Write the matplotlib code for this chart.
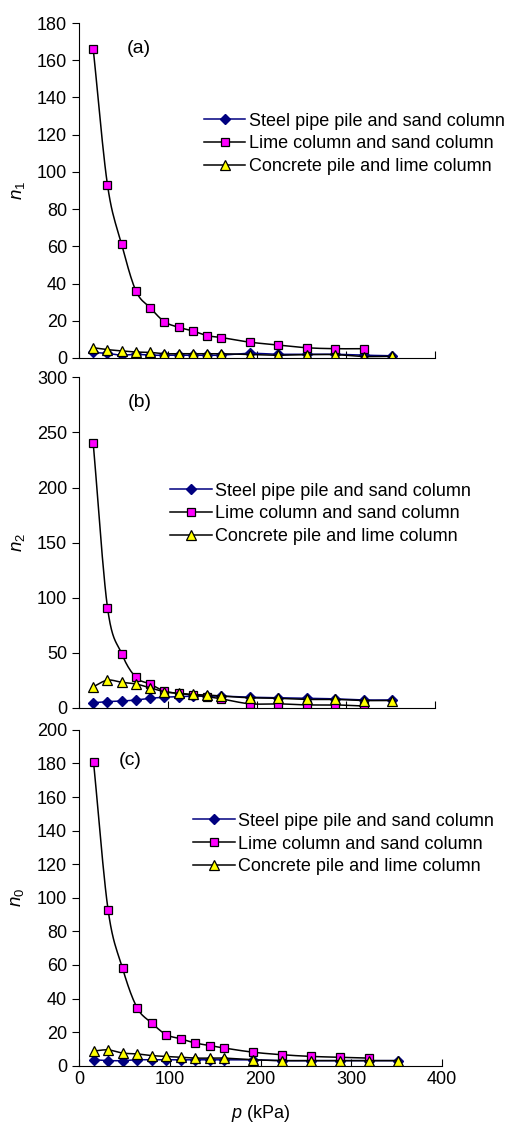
import numpy as np
import matplotlib
matplotlib.use('Agg')
import matplotlib.pyplot as plt

plt.rcParams['font.family'] = ['Liberation Sans', 'DejaVu Sans']
plt.rcParams['mathtext.fontset'] = 'custom'
plt.rcParams['mathtext.it'] = 'Liberation Sans:italic'
plt.rcParams['mathtext.rm'] = 'Liberation Sans'

# 荷载 p (kPa)
p = [16, 32, 48, 64, 80, 96, 112, 128, 144, 160, 192, 224, 256, 288, 320, 352]
p_lime = p[:15]

# (a) n1
steel_a = [3, 2.5, 1.5, 2, 1.5, 1.5, 1.5, 1.5, 1.5, 1.5, 2.5, 2, 2, 2, 1.5, 1.2]
lime_a = [166, 93, 61, 36, 27, 19.5, 16.5, 14.5, 12, 11, 8.5, 7, 5.5, 5, 5]
conc_a = [5.5, 4.5, 3.8, 3.2, 3, 2.3, 2.3, 2.3, 2.3, 2.3, 1.8, 1.5, 1.8, 1.8, 0.8, 0.9]

# (b) n2
steel_b = [4.5, 5.5, 6, 7, 8.5, 9.5, 10, 10.5, 10.5, 10.5, 9.5, 9, 8.5, 8, 7, 7]
lime_b = [240, 91, 49, 27.5, 21.5, 15, 13, 11.5, 10, 8, 3.5, 3.5, 2.5, 2.5, 1.5]
conc_b = [19, 25, 23, 21.5, 18, 14.5, 13, 12, 11.5, 10.5, 9, 8.5, 7.5, 7.5, 6.5, 6.5]

# (c) n0
steel_c = [3.5, 3, 3, 3.5, 3.5, 3.5, 3.5, 3.5, 3.5, 3.5, 3.5, 3, 3, 3, 3, 3]
lime_c = [181, 93, 58, 34.5, 25.5, 18.5, 16, 13.5, 12, 10.5, 8, 6.5, 5.5, 5, 4.5]
conc_c = [8.7, 9.4, 7.5, 7, 6, 5.5, 5, 4.5, 4.5, 4.5, 3.5, 3, 3, 3, 3, 3]

labels = ['Steel pipe pile and sand column',
          'Lime column and sand column',
          'Concrete pile and lime column']


def smooth(x, y, n=12):
    '''Catmull-Rom 平滑曲线(类似Excel平滑线)'''
    x = np.asarray(x, float)
    y = np.asarray(y, float)
    px = np.concatenate([[2 * x[0] - x[1]], x, [2 * x[-1] - x[-2]]])
    py = np.concatenate([[2 * y[0] - y[1]], y, [2 * y[-1] - y[-2]]])
    t = np.linspace(0, 1, n)
    xs, ys = [], []
    for i in range(1, len(px) - 2):
        for arr, out in ((px, xs), (py, ys)):
            p0, p1, p2, p3 = arr[i - 1], arr[i], arr[i + 1], arr[i + 2]
            out.append(0.5 * (2 * p1 + (-p0 + p2) * t
                              + (2 * p0 - 5 * p1 + 4 * p2 - p3) * t ** 2
                              + (-p0 + 3 * p1 - 3 * p2 + p3) * t ** 3))
    return np.concatenate(xs), np.concatenate(ys)


def draw(ax, steel, lime, conc, ymax, ystep, ylabel, tag, tagpos, legpos):
    styles = [
        (p, steel, '#000080', dict(marker='D', ms=5, mfc='#000080', mec='#000080')),
        (p_lime, lime, 'black', dict(marker='s', ms=6, mfc='#ff00ff', mec='black', mew=0.9)),
        (p, conc, 'black', dict(marker='^', ms=7, mfc='#ffff00', mec='black', mew=0.9)),
    ]
    handles = []
    for (xx, yy, lc, mk), lab in zip(styles, labels):
        sx, sy = smooth(xx, yy)
        ax.plot(sx, sy, color=lc, lw=1.1)
        ax.plot(xx, yy, ls='none', **mk)
        h, = ax.plot([], [], color=lc, lw=1.1, **mk)
        handles.append(h)
    ax.set_xlim(0, 400)
    ax.set_ylim(0, ymax)
    ax.set_xticks(range(0, 401, 100))
    ax.set_yticks(range(0, ymax + 1, ystep))
    ax.spines['top'].set_visible(False)
    ax.spines['right'].set_visible(False)
    ax.tick_params(axis='x', direction='in', length=5)
    ax.tick_params(axis='y', direction='out', length=5)
    ax.tick_params(labelsize=13)
    ax.set_ylabel(ylabel, fontsize=13.5)
    ax.yaxis.set_label_coords(-0.145, 0.5)
    ax.text(tagpos[0], tagpos[1], tag, transform=ax.transAxes, fontsize=14, va='center')
    ax.legend(handles, labels, loc='center left', bbox_to_anchor=legpos, frameon=False,
              fontsize=13, handlelength=2.3, handletextpad=0.2, labelspacing=0.32,
              borderpad=0, borderaxespad=0)


fig = plt.figure(figsize=(5.12, 11.24), dpi=100)
ax1 = fig.add_axes([0.1543, 0.6815, 0.6953, 0.298])
ax2 = fig.add_axes([0.1543, 0.3704, 0.6953, 0.2938])
ax3 = fig.add_axes([0.1543, 0.0519, 0.709, 0.2987])

draw(ax1, steel_a, lime_a, conc_a, 180, 20, '$n_1$', '(a)', (0.135, 0.925), (0.351, 0.639))
draw(ax2, steel_b, lime_b, conc_b, 300, 50, '$n_2$', '(b)', (0.138, 0.923), (0.256, 0.587))
draw(ax3, steel_c, lime_c, conc_c, 200, 20, '$n_0$', '(c)', (0.11, 0.91), (0.314, 0.66))

ax1.set_xticklabels([])
ax2.set_xticklabels([])
ax3.set_xlabel('$p$ (kPa)', fontsize=13, labelpad=11)

fig.savefig('out.png', dpi=100)
